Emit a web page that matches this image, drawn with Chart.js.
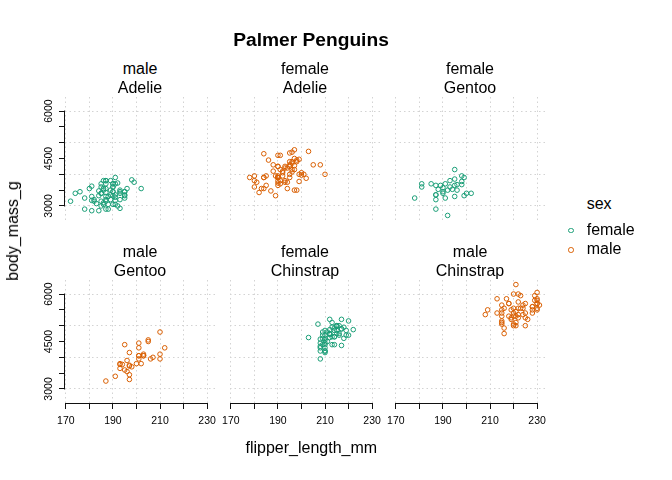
<!DOCTYPE html>
<html>
<head>
<meta charset="utf-8">
<title>Palmer Penguins</title>
<script src="https://cdn.jsdelivr.net/npm/chart.js@4.4.1/dist/chart.umd.min.js"></script>
<style>
  html, body { margin: 0; padding: 0; background: #fff; }
  #stage { position: relative; width: 672px; height: 480px; overflow: hidden;
           font-family: "Liberation Sans", Arial, Helvetica, sans-serif; color: #000; }
  #stage canvas { position: absolute; }
  .txt { position: absolute; white-space: nowrap; line-height: 1; }
  .mark { position: absolute; box-sizing: border-box; border-radius: 50%; border: 1px solid; }
</style>
</head>
<body>
<div id="stage"></div>
<script>
// Axis ticks and labels
const xTicks = [170, 180, 190, 200, 210, 220, 230];
const xLabels = [170, 190, 210, 230];
const yTicks = [3000, 3500, 4000, 4500, 5000, 5500, 6000];
const yLabels = [3000, 4500, 6000];
const yGrid = [3000, 4000, 5000, 6000];

// Facet strips, as printed on the chart
const panelSex = ['male', 'female', 'female', 'male', 'female', 'male'];
const panelSpecies = ['Adelie', 'Adelie', 'Gentoo', 'Gentoo', 'Chinstrap', 'Chinstrap'];
const legendLabels = ['female', 'male'];
const panelGroup = [0, 1, 0, 1, 0, 1];

// Series (flipper_length_mm, body_mass_g) per panel
const adelieFemaleFlipper = [186,195,193,181,182,185,195,184,174,189,187,187,172,178,188,195,180,181,182,186,
  185,190,186,190,187,186,181,185,185,184,195,190,190,196,190,191,187,189,187,191,189,190,202,185,187,190,178,192,183,193,
  199,181,198,193,191,188,189,187,176,186,191,191,190,193,187,191,185,193,188,192,184,195,187];
const adelieFemaleMass = [3800,3250,3450,3625,3200,3700,3450,3325,3400,3800,3800,3200,3150,3250,3300,3325,3550,3300,3150,3100,
  3000,3450,3500,3450,2900,3550,2850,3150,3600,2850,3350,3050,3600,3550,3700,3700,3550,3200,3800,3350,3500,3600,3550,3400,3300,3700,2900,3725,3075,2925,
  3750,3175,3825,3200,3900,2900,3350,3150,3450,3050,3275,3050,3325,3500,3425,3175,3400,3400,3050,3000,3475,3450,3700];

const adelieMaleFlipper = [181,190,195,191,198,197,194,180,185,180,183,180,178,184,196,190,184,195,196,190,
  182,191,188,200,191,193,194,195,192,192,188,198,190,197,195,184,195,196,193,194,190,189,205,186,208,196,192,203,190,184,
  190,197,191,197,196,199,189,198,202,199,195,210,197,199,190,200,193,187,190,185,190,193,201];
const adelieMaleMass = [3750,3650,4675,3800,4400,4500,4200,3600,3950,3800,3550,3950,3900,3900,4150,3950,4650,3900,4400,4600,
  3425,4150,4300,4050,3700,3800,3750,4400,4050,3950,4100,4450,3900,4150,4250,3900,4000,4700,4200,3550,3800,3950,4300,4450,4300,4350,4100,4725,4250,3550,
  3900,4775,4600,4275,4075,3775,3325,3500,3875,4000,4300,4000,3500,4475,3900,3975,4250,3475,3725,3650,4250,3750,4000];

const chinstrapFemaleFlipper = [192,188,198,178,195,193,185,190,181,190,181,187,195,200,191,187,187,199,195,192,
  187,196,196,190,198,199,193,187,191,194,189,195,202,198];
const chinstrapFemaleMass = [3500,3525,3950,3250,4150,3800,3700,3575,3700,3450,3600,2900,3300,3400,3700,3200,3350,3900,3850,2700,
  3650,3500,3675,3400,3675,3325,3600,3350,3250,3525,3650,3650,3400,3775];

const chinstrapMaleFlipper = [196,193,197,197,198,194,201,201,197,195,191,193,197,200,205,201,203,195,210,205,
  210,196,201,212,187,201,203,197,203,202,206,207,193,210];
const chinstrapMaleMass = [3900,3650,3725,3750,3700,3775,4050,4050,3300,4400,3400,3800,4150,3800,4550,4300,4100,3600,4800,4500,
  3950,3550,4450,4300,3250,3950,4050,3450,4050,3800,3950,4000,3775,4100];

const gentooFemaleFlipper = [211,210,210,211,209,214,214,210,210,209,215,213,215,210,209,207,220,213,208,208,
  210,217,210,213,210,210,217,208,208,208,214,219,220,216,217,216,209,215,212,212,212,218,212,218,212,214,222,203,219,215,
  210,208,216,213,217,214,215,212];
const gentooFemaleMass = [4500,4450,4550,4800,4400,4650,4650,4200,4150,4800,5000,4400,5000,4600,4700,5050,5150,4950,4350,3950,
  4300,4900,4200,5100,4850,4400,4900,4300,4450,4200,4400,4700,4700,4750,5200,4700,4600,4750,4625,4725,4750,4600,4875,4950,4750,4850,4875,4625,4850,4975,
  4700,4575,5000,4650,4375,4925,4850,5200];

const gentooMaleFlipper = [230,218,215,219,215,216,213,217,221,222,218,215,215,215,220,222,230,220,219,208,
  225,216,222,225,215,220,225,220,220,224,221,231,230,229,223,221,221,230,220,223,221,224,228,218,230,228,224,226,216,225,
  228,228,215,219,209,229,230,230,222,222,213];
const gentooMaleMass = [5700,5700,5400,5200,5150,5550,5850,5850,6300,5350,5700,5050,5100,5650,5550,5250,6050,5400,5250,5350,
  5700,4750,5550,5400,5300,5300,5000,5050,5000,5550,5300,5650,5700,5800,5550,5000,5100,5800,6000,5950,5450,5350,5600,5300,5550,5400,5650,5200,4925,5250,
  5600,5500,5500,5500,5500,5950,5500,5850,6000,5750,5400];

const panelFlipper = [adelieFemaleFlipper, adelieMaleFlipper, chinstrapFemaleFlipper, chinstrapMaleFlipper, gentooFemaleFlipper, gentooMaleFlipper];
const panelMass = [adelieFemaleMass, adelieMaleMass, chinstrapFemaleMass, chinstrapMaleMass, gentooFemaleMass, gentooMaleMass];

// Look
const groupColors = ['#1B9E77', '#D95F02'];
const gridColor = '#D3D3D3';
const axisColor = '#111';
const fontFamily = '"Liberation Sans", Arial, Helvetica, sans-serif';
const tickFontSize = 10.5;

// Layout (pixels)
const colLeft = [65, 230, 395];
const rowTop = [97, 280];
const panelW = 150, panelH = 123;
const leftSpace = 45, bottomSpace = 45, padTop = 6, padRight = 14;

const stage = document.getElementById('stage');

function addText(str, size, x, baseline, opts = {}) {
    const d = document.createElement('div');
    d.className = 'txt';
    d.textContent = str;
    d.style.fontSize = size + 'px';
    if (opts.bold) d.style.fontWeight = 'bold';
    d.style.top = (baseline - 0.8465 * size) + 'px';
    d.style.left = x + 'px';
    if (opts.center) d.style.transform = 'translateX(-50%)';
    stage.appendChild(d);
    return d;
}

// Axis lines (only between first and last tick) and rotated y tick labels
const rAxesPlugin = {
    id: 'rAxes',
    afterDraw(chart, args, opts) {
        const { ctx, chartArea } = chart;
        const xs = chart.scales.x, ys = chart.scales.y;
        ctx.save();
        ctx.strokeStyle = axisColor;
        ctx.lineWidth = 1;
        if (opts.showX) {
            const yy = Math.round(chartArea.bottom) + 0.5;
            ctx.beginPath();
            ctx.moveTo(xs.getPixelForValue(xTicks[0]) - 0.5, yy);
            ctx.lineTo(xs.getPixelForValue(xTicks[xTicks.length - 1]) + 0.5, yy);
            ctx.stroke();
        }
        if (opts.showY) {
            const xx = Math.round(chartArea.left) - 0.5;
            ctx.beginPath();
            ctx.moveTo(xx, ys.getPixelForValue(yTicks[0]) + 0.5);
            ctx.lineTo(xx, ys.getPixelForValue(yTicks[yTicks.length - 1]) - 0.5);
            ctx.stroke();

            ctx.fillStyle = '#000';
            ctx.font = tickFontSize + 'px ' + fontFamily;
            ctx.textAlign = 'center';
            ctx.textBaseline = 'alphabetic';
            yLabels.forEach(v => {
                ctx.save();
                ctx.translate(chartArea.left - 13.5, ys.getPixelForValue(v));
                ctx.rotate(-Math.PI / 2);
                ctx.fillText(String(v), 0, 0);
                ctx.restore();
            });
        }
        ctx.restore();
    }
};

function makePanel(i) {
    const col = i % 3, row = Math.floor(i / 3);
    const showX = row === 1;
    const showY = col === 0;

    const canvas = document.createElement('canvas');
    const w = leftSpace + panelW + padRight;
    const h = padTop + panelH + bottomSpace;
    canvas.width = w;
    canvas.height = h;
    canvas.style.width = w + 'px';
    canvas.style.height = h + 'px';
    canvas.style.left = (colLeft[col] - leftSpace) + 'px';
    canvas.style.top = (rowTop[row] - padTop) + 'px';
    stage.appendChild(canvas);

    const xs = panelFlipper[i], ms = panelMass[i];
    const color = groupColors[panelGroup[i]];

    new Chart(canvas.getContext('2d'), {
        type: 'scatter',
        data: {
            datasets: [{
                label: legendLabels[panelGroup[i]],
                data: xs.map((v, k) => ({ x: v, y: ms[k] })),
                borderColor: color,
                backgroundColor: 'rgba(0,0,0,0)',
                pointStyle: 'circle',
                pointRadius: 2.3,
                pointBorderWidth: 1
            }]
        },
        options: {
            responsive: false,
            animation: false,
            events: [],
            layout: { padding: { top: padTop, right: padRight, left: 0, bottom: 0 }, autoPadding: false },
            plugins: {
                legend: { display: false },
                tooltip: { enabled: false },
                rAxes: { showX, showY }
            },
            scales: {
                x: {
                    type: 'linear',
                    position: 'bottom',
                    min: 169.64,
                    max: 233.36,
                    afterBuildTicks: s => { s.ticks = xTicks.map(v => ({ value: v })); },
                    afterFit: s => { s.height = bottomSpace; },
                    ticks: {
                        display: showX,
                        autoSkip: false,
                        maxRotation: 0,
                        minRotation: 0,
                        padding: 5.5,
                        color: '#000',
                        font: { family: fontFamily, size: tickFontSize },
                        callback: v => xLabels.includes(v) ? String(v) : ''
                    },
                    grid: {
                        color: gridColor,
                        lineWidth: 1,
                        drawTicks: showX,
                        tickLength: 6,
                        tickColor: axisColor
                    },
                    border: { display: false, dash: [1.5, 3] }
                },
                y: {
                    type: 'linear',
                    position: 'left',
                    min: 2556,
                    max: 6444,
                    afterBuildTicks: s => { s.ticks = yTicks.map(v => ({ value: v })); },
                    afterFit: s => { s.width = leftSpace; },
                    ticks: { display: false },
                    grid: {
                        color: c => (c.tick && yGrid.includes(c.tick.value)) ? gridColor : 'rgba(0,0,0,0)',
                        lineWidth: 1,
                        drawTicks: showY,
                        tickLength: 6,
                        tickColor: axisColor
                    },
                    border: { display: false, dash: [1.5, 3] }
                }
            }
        },
        plugins: [rAxesPlugin]
    });

    // strip labels
    const cx = colLeft[col] + panelW / 2;
    addText(panelSex[i], 16, cx, rowTop[row] - 22, { center: true });
    addText(panelSpecies[i], 16, cx, rowTop[row] - 3.7, { center: true });
}

for (let i = 0; i < 6; i++) makePanel(i);

// Titles
addText('Palmer Penguins', 19.2, 311, 46.7, { center: true, bold: true });
addText('flipper_length_mm', 16, 311.3, 453.3, { center: true });
const yTitle = document.createElement('div');
yTitle.className = 'txt';
yTitle.textContent = 'body_mass_g';
yTitle.style.fontSize = '16px';
yTitle.style.left = '12.9px';
yTitle.style.top = '231px';
yTitle.style.transform = 'translate(-50%, -50%) rotate(-90deg)';
stage.appendChild(yTitle);

// Legend
addText('sex', 16, 586.7, 210);
const legendBaselines = [236, 254.3];
const legendMarkY = [230.7, 250];
legendLabels.forEach((lab, k) => {
    addText(lab, 16, 586.7, legendBaselines[k]);
    const m = document.createElement('div');
    m.className = 'mark';
    m.style.width = '5.6px';
    m.style.height = '5.6px';
    m.style.left = (571 - 2.8) + 'px';
    m.style.top = (legendMarkY[k] - 2.8) + 'px';
    m.style.borderColor = groupColors[k];
    stage.appendChild(m);
});
</script>
</body>
</html>
